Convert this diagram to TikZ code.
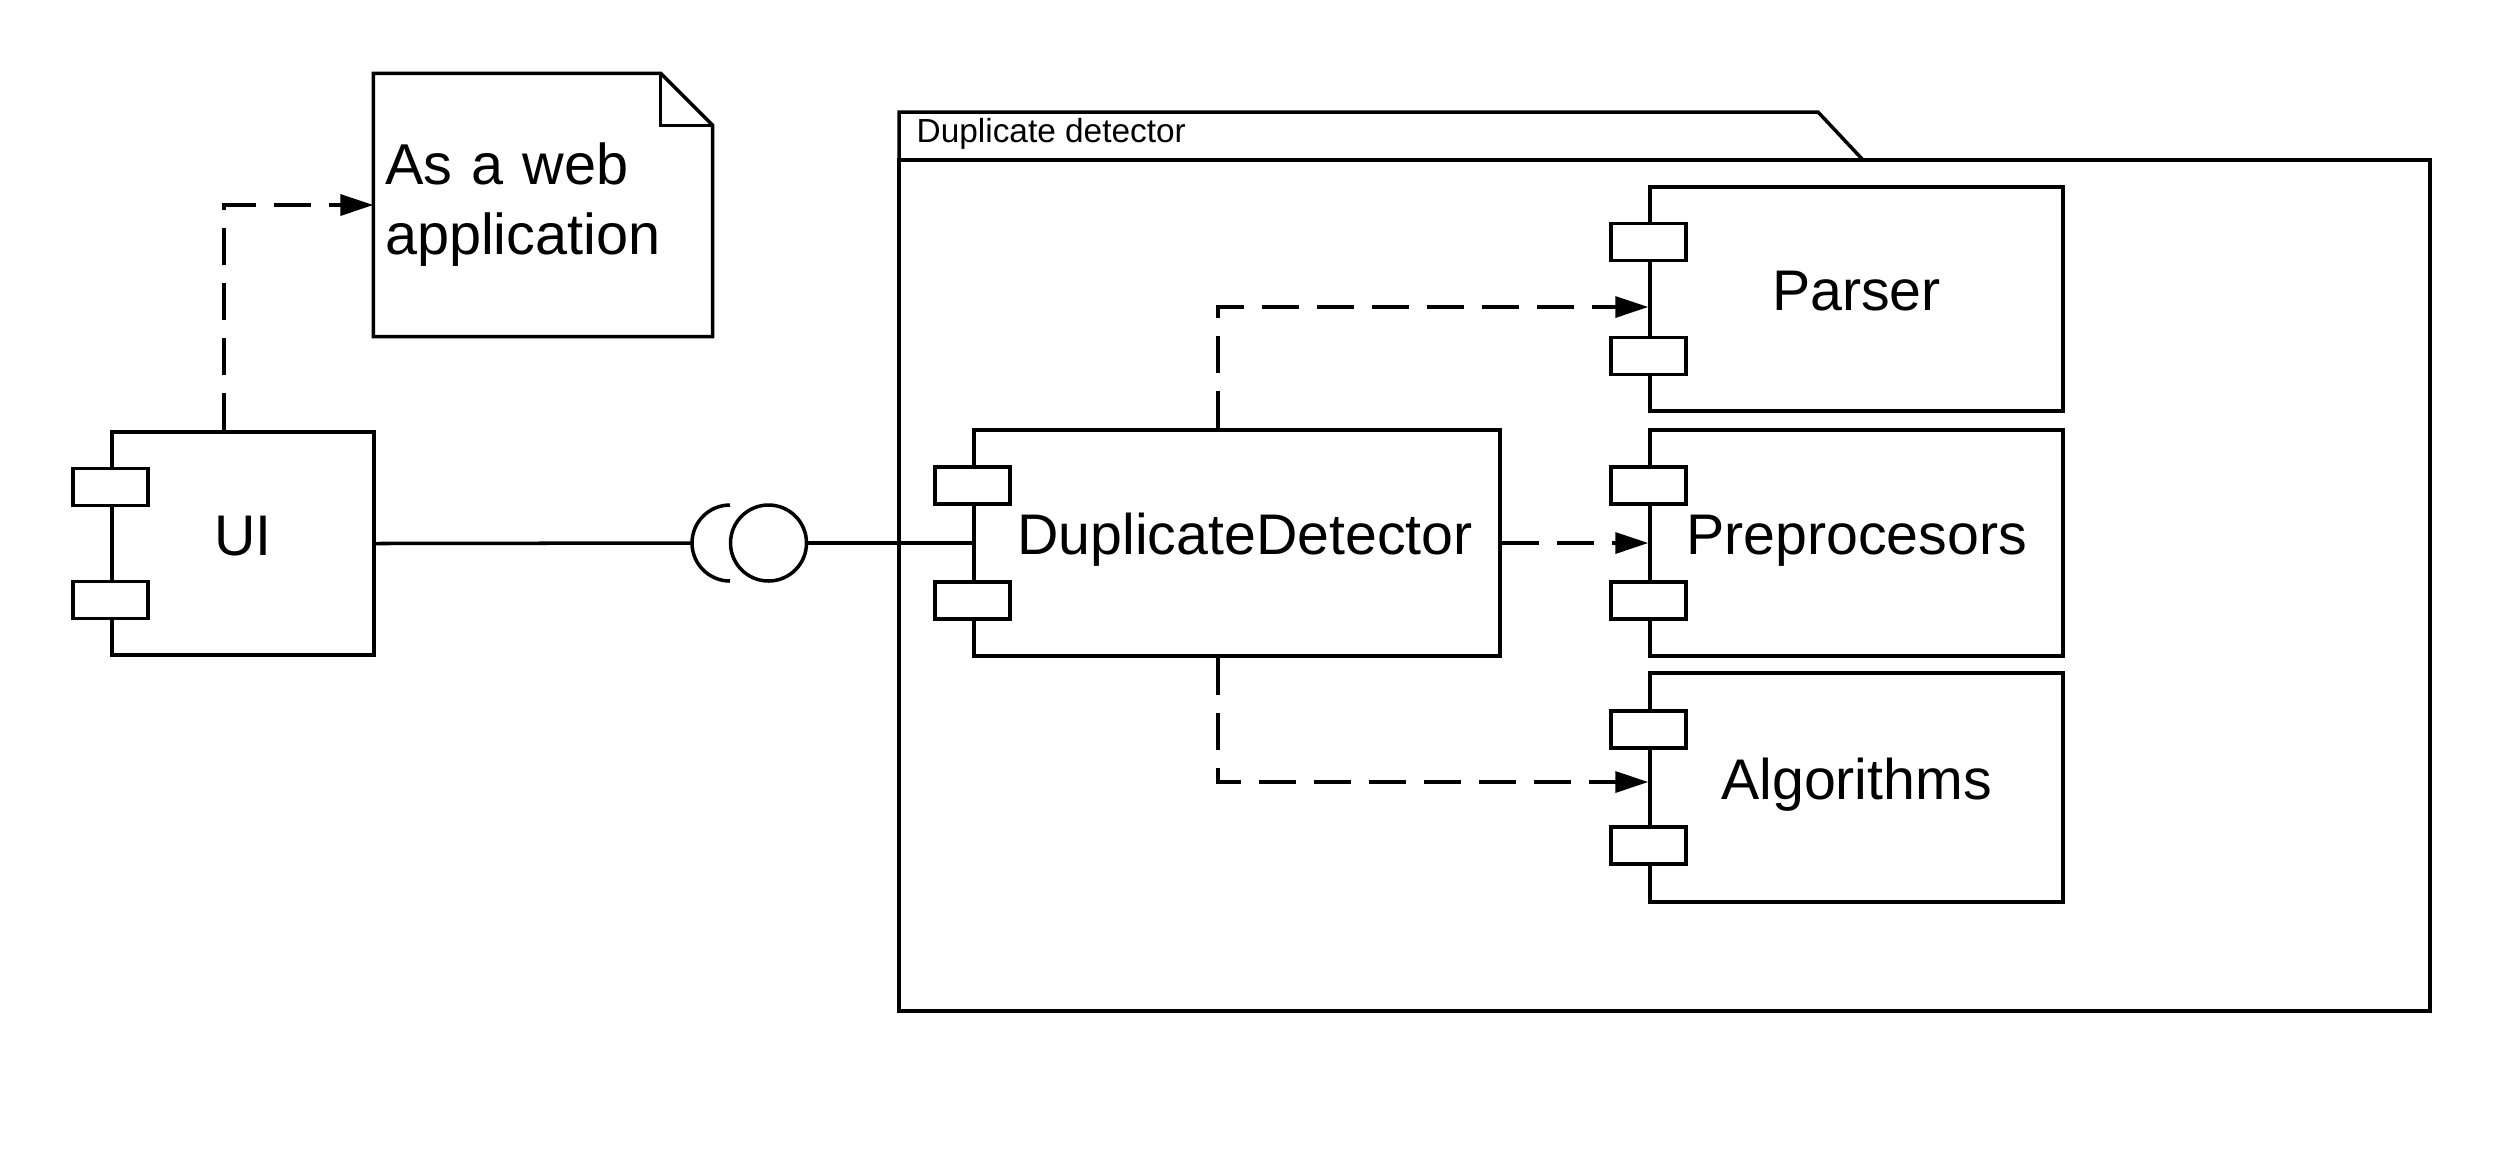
\documentclass[tikz,border=0pt]{standalone}
\usepackage{fontspec}
\setmainfont{Liberation Sans}
\usetikzlibrary{arrows.meta,calc}

\tikzset{
  comp/.style={draw, line width=1pt, fill=white, inner sep=0pt, text height=11.4pt, text depth=4.6pt, font=\fontsize{16.3}{19}\selectfont},
  port/.style={draw, line width=1pt, fill=white, minimum width=0.75cm, minimum height=0.37cm, inner sep=0pt},
  dep/.style={line width=1pt, dash pattern=on 0.37cm off 0.18cm, -{Triangle[length=0.33cm,width=0.21cm]}},
}

\begin{document}
\begin{tikzpicture}[x=1mm,y=1mm]
        \useasboundingbox (0,0) rectangle (250.7,-116.6);
        % package frame
        \draw [line width=1pt] (89.9,-16.0) -- (89.9,-11.2) -- (181.8,-11.2) -- (186.3,-16.0);
        \draw [line width=1pt] (89.9,-16.0) rectangle (243.0,-101.1);
        \node [anchor=base west, inner sep=0pt, font=\fontsize{9.5}{11}\selectfont] (pkgname) at (91.6,-14.2) {Duplicate detector};
        % note
        \node [minimum width=3.38cm, minimum height=2.62cm, text width=3.16cm, inner xsep=0.11cm, inner ysep=0pt, align=left, font=\fontsize{16.4}{19.9}\selectfont] (note) at (54.3,-20.5) {As a web\\application};
        \draw [line width=1pt] (note.north west) -- ([xshift=-0.52cm]note.north east) -- ([yshift=-0.52cm]note.north east) -- (note.south east) -- (note.south west) -- cycle;
        \draw [line width=1pt] ([xshift=-0.52cm]note.north east) |- ([yshift=-0.52cm]note.north east);
        % components
        \node [comp, minimum width=2.62cm, minimum height=2.23cm] (ui) at (24.3,-54.35) {UI};
        \node [comp, minimum width=5.26cm, minimum height=2.26cm] (dd) at (123.7,-54.3) {\hspace{0.16cm}DuplicateDetector};
        \node [comp, minimum width=4.13cm, minimum height=2.24cm] (parser) at (185.65,-29.9) {Parser};
        \node [comp, minimum width=4.13cm, minimum height=2.26cm] (prep) at (185.65,-54.3) {Preprocesors};
        \node [comp, minimum width=4.13cm, minimum height=2.29cm] (algo) at (185.65,-78.75) {Algorithms};
        \foreach \c in {ui,dd,parser,prep,algo} {
          \node [port] (\c p1) at ($(\c.north west)!0.25!(\c.south west)$) {};
          \node [port] (\c p2) at ($(\c.north west)!0.75!(\c.south west)$) {};
        }
        % interface
        \coordinate (socket) at (69.2,-54.3);
        \coordinate (socktop) at (73.0,-50.5);
        \node [draw, line width=1pt, circle, minimum size=0.76cm, inner sep=0pt] (ball) at (76.85,-54.3) {};
        \draw [line width=1pt] (ui.east) -- (socket);
        \draw [line width=1pt] (socktop) arc [start angle=90, end angle=270, radius=0.38cm];
        \draw [line width=1pt] (ball) -- (dd.west);
        % dependencies
        \draw [dep] ([xshift=-0.19cm]ui.north) |- (note.west);
        \draw [dep] ([xshift=-0.19cm]dd.north) |- ([yshift=-0.08cm]parser.west);
        \draw [dep] (dd.east) -- (prep.west);
        \draw [dep] ([xshift=-0.19cm]dd.south) |- ([yshift=0.055cm]algo.west);
\end{tikzpicture}
\end{document}
